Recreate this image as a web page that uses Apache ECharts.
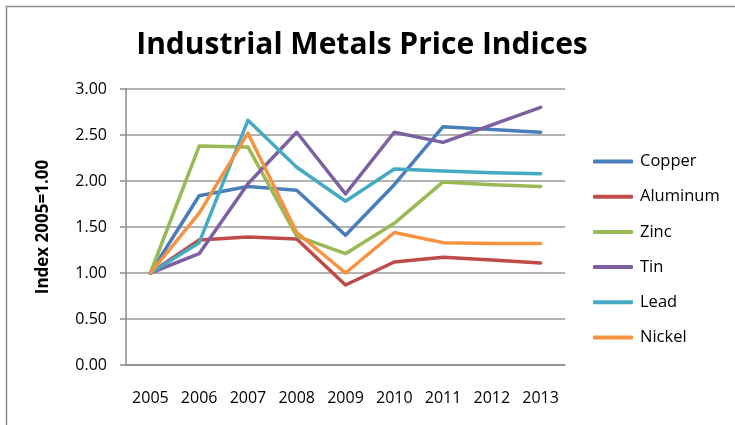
<!DOCTYPE html>
<html><head><meta charset="utf-8">
<script src="https://cdn.jsdelivr.net/npm/echarts@6/dist/echarts.min.js"></script>
<style>html,body{margin:0;padding:0;background:#fff}#c{width:735px;height:425px}</style>
</head><body><div id="c"></div>
<script>
const years = ['2005','2006','2007','2008','2009','2010','2011','2012','2013'];
const copper   = [1.00, 1.84, 1.94, 1.90, 1.41, 1.96, 2.59, 2.56, 2.53];
const aluminum = [1.00, 1.36, 1.39, 1.37, 0.87, 1.12, 1.17, 1.14, 1.11];
const zinc     = [1.00, 2.38, 2.37, 1.40, 1.21, 1.54, 1.99, 1.96, 1.94];
const tin      = [1.00, 1.21, 1.97, 2.53, 1.86, 2.53, 2.42, 2.61, 2.80];
const lead     = [1.00, 1.33, 2.66, 2.15, 1.78, 2.13, 2.11, 2.09, 2.08];
const nickel   = [1.00, 1.65, 2.52, 1.44, 1.00, 1.44, 1.33, 1.32, 1.32];
const yTicks = [0, 0.5, 1, 1.5, 2, 2.5, 3];

const names = ['Copper','Aluminum','Zinc','Tin','Lead','Nickel'];
const datas = [copper, aluminum, zinc, tin, lead, nickel];
const colors = ['#4A7EBB','#BE4B48','#98B954','#7D60A0','#46AAC5','#F69240'];
const font = 'Open Sans, Liberation Sans, sans-serif';

const chart = echarts.init(document.getElementById('c'), null, {renderer:'canvas'});
chart.setOption({
  animation: false,
  color: colors,
  title: {
    text: 'Industrial Metals Price Indices',
    left: 357, top: 25, textAlign: 'center',
    textStyle: {fontFamily: font, fontSize: 30, fontWeight: 'bold', color: '#000'}
  },
  graphic: [{type:'rect', shape:{x:6.5, y:6.5, width:760, height:440}, style:{fill:'none', stroke:'#8c8c8c', lineWidth:1.5}, silent:true}],
  grid: {left: 126, right: 170, top: 89, bottom: 60},
  legend: {
    orient: 'vertical', left: 588, top: 148,
    itemWidth: 40, itemHeight: 4, itemGap: 18.2, icon: 'roundRect',
    data: names,
    textStyle: {fontFamily: font, fontSize: 16.5, color: '#000', lineHeight: 17, padding: [0,0,0,2]}
  },
  xAxis: {
    type: 'category', data: years, boundaryGap: true,
    axisLine: {lineStyle: {color: '#8c8c8c', width: 1.5}},
    axisTick: {show: false},
    axisLabel: {fontFamily: font, fontSize: 16, color: '#000', margin: 25}
  },
  yAxis: {
    type: 'value', min: 0, max: 3, interval: 0.5,
    name: 'Index 2005=1.00', nameLocation: 'middle', nameGap: 74, nameRotate: 90,
    nameTextStyle: {fontFamily: font, fontSize: 17, fontWeight: 'bold', color: '#000'},
    axisLine: {show: true, lineStyle: {color: '#8c8c8c', width: 1.5}},
    axisTick: {show: true, length: 6, lineStyle: {color: '#8c8c8c', width: 1.5}},
    axisLabel: {fontFamily: font, fontSize: 16, color: '#000', margin: 19,
      formatter: v => yTicks.indexOf(v) >= 0 ? v.toFixed(2) : ''},
    splitLine: {lineStyle: {color: '#9a9a9a', width: 1.5}}
  },
  series: names.map((n, i) => ({
    name: n, type: 'line', data: datas[i], symbol: 'none', smooth: false,
    lineStyle: {width: 3.5, color: colors[i], cap: 'round', join: 'round'},
    itemStyle: {color: colors[i]}
  }))
});
</script></body></html>
